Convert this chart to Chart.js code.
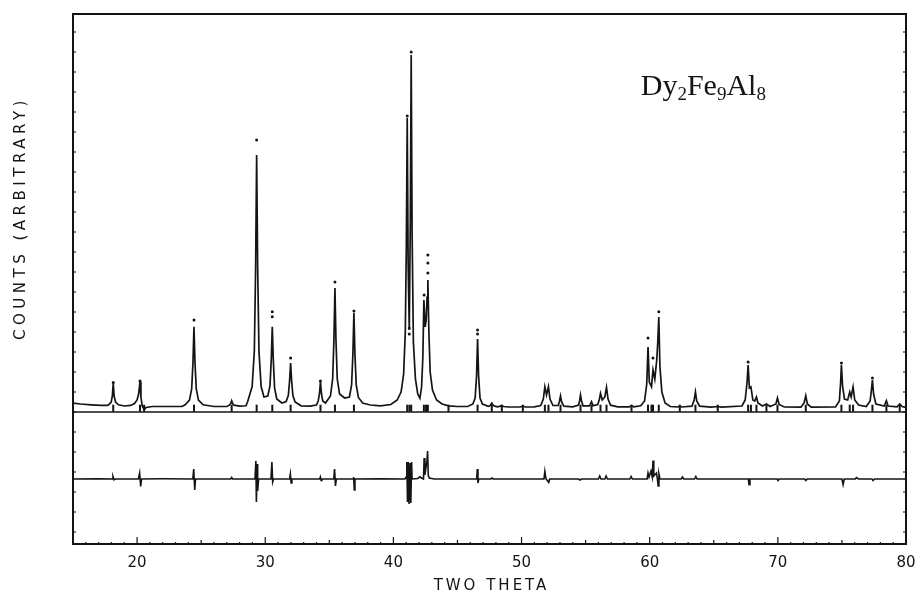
<!DOCTYPE html>
<html>
<head>
<meta charset="utf-8">
<script src="https://cdn.jsdelivr.net/npm/chart.js@4.4.1/dist/chart.umd.min.js"></script>
<style>
  html, body { margin: 0; padding: 0; background: #fff; }
  canvas { display: block; }
</style>
</head>
<body>
<canvas id="GraficoDifracao" width="916" height="607"></canvas>
<script>
// x axis: two theta (degrees), y: counts (arbitrary), 0 = line under the pattern
var xTickValues = [20, 30, 40, 50, 60, 70, 80];

// calculated profile
var calcX = [
  15.0, 15.6, 16.4, 17.2, 17.7,
  17.8, 17.98, 18.07, 18.14, 18.21, 18.32, 18.55, 19.0, 19.5,
  19.8, 20.0, 20.12, 20.23, 20.3, 20.4, 20.55, 20.7, 21.2, 22.5, 23.5,
  23.75, 24.09, 24.26, 24.36, 24.44, 24.52, 24.62, 24.79, 25.15, 26.0, 27.0,
  27.2, 27.3, 27.38, 27.46, 27.56, 28.0, 28.5,
  28.63, 28.98, 29.15, 29.25, 29.33, 29.41, 29.51, 29.68, 29.9,
  30.2, 30.37, 30.47, 30.55, 30.63, 30.73, 30.9, 31.3,
  31.63, 31.8, 31.9, 31.98, 32.06, 32.16, 32.33, 32.8, 33.5, 34.0,
  34.13, 34.23, 34.31, 34.39, 34.49, 34.7,
  35.09, 35.26, 35.36, 35.44, 35.52, 35.62, 35.8, 36.2,
  36.57, 36.74, 36.84, 36.92, 37.0, 37.1, 37.27, 37.6, 38.2, 39.0, 39.8, 40.3, 40.6,
  40.8, 40.93, 41.01, 41.08, 41.15, 41.24, 41.32, 41.39, 41.46, 41.56, 41.72, 41.9, 42.07,
  42.2, 42.3, 42.38, 42.48, 42.56, 42.63, 42.69, 42.77, 42.87, 43.05, 43.37, 43.8, 44.3, 45.0, 45.8,
  46.2, 46.38, 46.49, 46.57, 46.65, 46.76, 46.95, 47.4,
  47.55, 47.68, 47.8, 48.1, 48.35, 48.46, 48.58, 49.0, 49.9, 50.1, 50.3, 51.0,
  51.5, 51.7, 51.82, 51.95, 52.1, 52.22, 52.45, 52.85, 52.95, 53.04, 53.13, 53.3, 54.0,
  54.45, 54.53, 54.6, 54.68, 54.8, 55.3, 55.46, 55.58, 55.95, 56.08, 56.16, 56.3, 56.5, 56.63, 56.75, 56.95,
  57.5, 58.4, 58.58, 58.75, 59.3,
  59.6, 59.77, 59.87, 59.97, 60.14, 60.26, 60.4, 60.55, 60.63, 60.71, 60.8, 60.95, 61.2, 61.6,
  62.2, 62.35, 62.5, 63.3, 63.47, 63.57, 63.67, 63.9, 64.8, 65.31, 65.6,
  67.2, 67.45, 67.6, 67.68, 67.78, 67.9, 68.05, 68.2, 68.33, 68.45, 68.8, 69.11, 69.4,
  69.85, 69.97, 70.1, 70.5, 71.8, 72.05, 72.18, 72.3, 72.6,
  74.5, 74.8, 74.9, 74.96, 75.05, 75.2, 75.45, 75.61, 75.72, 75.87, 76.0, 76.3, 76.9,
  77.2, 77.3, 77.38, 77.47, 77.65, 78.3, 78.47, 78.6, 79.3, 79.51, 79.7, 80.0
];
var calcY = [
  88, 80, 72, 66, 66,
  75, 100, 160, 287, 160, 100, 72, 60, 66,
  85, 120, 180, 303, 150, 60, 25, 45, 55, 55, 55,
  72, 118, 230, 490, 853, 490, 230, 118, 72, 55, 55,
  68, 85, 113, 85, 68, 58, 62,
  105, 255, 610, 1440, 2570, 1440, 610, 255, 150,
  160, 260, 520, 853, 520, 240, 130, 90,
  105, 165, 310, 490, 310, 165, 100, 62, 58, 70,
  110, 180, 303, 180, 110, 90,
  160, 330, 720, 1240, 720, 330, 180, 140,
  150, 270, 580, 990, 580, 270, 145, 90, 70, 62, 75, 120, 200,
  380, 800, 1650, 2940, 1500, 820, 1900, 3570, 1800, 700, 330, 180, 137,
  250, 550, 1120, 850, 920, 1150, 1320, 800, 400, 220, 120, 80, 62, 55, 55,
  80, 140, 360, 730, 360, 140, 80, 56,
  65, 90, 65, 52, 58, 65, 55, 50, 50, 58, 50, 52,
  65, 130, 253, 170, 253, 130, 65, 65, 100, 160, 100, 58, 52,
  70, 110, 170, 110, 62, 62, 103, 62, 75, 130, 187, 120, 150, 247, 130, 68,
  52, 52, 62, 52, 62,
  110, 280, 650, 300, 253, 420, 330, 520, 700, 950, 450, 200, 90, 55,
  50, 60, 50, 58, 120, 200, 110, 58, 48, 55, 48,
  60, 120, 300, 470, 240, 250, 120, 110, 150, 90, 60, 80, 55,
  80, 140, 75, 50, 48, 90, 163, 80, 48,
  50, 110, 300, 470, 260, 130, 120, 200, 150, 250, 120, 70, 55,
  110, 220, 320, 180, 80, 60, 113, 60, 52, 80, 55, 45
];

// observed points that stand clear of the calculated line
var obsX = [24.44, 29.33, 30.55, 30.55, 31.98, 35.44, 36.92, 41.08, 41.24, 41.24, 41.39,
            42.4, 42.69, 42.69, 42.69, 46.57, 46.57, 59.87, 60.26, 60.71, 67.68, 74.96, 77.38,
            18.14, 20.23, 34.31];
var obsY = [920, 2720, 1003, 953, 540, 1300, 1010, 2960, 840, 780, 3600,
            1170, 1570, 1490, 1390, 820, 780, 740, 540, 1003, 500, 490, 340,
            295, 310, 310];

// difference curve (obs - calc)
var diffX = [
  15.0, 17.0, 18.05, 18.12, 18.2, 18.3, 20.1, 20.2, 20.28, 20.35, 22.0,
  24.35, 24.42, 24.5, 24.56, 27.3, 27.38, 27.45,
  29.2, 29.27, 29.31, 29.36, 29.41, 29.48, 30.45, 30.52, 30.58, 30.65,
  31.9, 31.96, 32.02, 32.08, 34.25, 34.3, 34.36, 34.42,
  35.35, 35.41, 35.48, 35.55, 36.85, 36.9, 36.95, 37.0, 39.0,
  40.9, 41.0, 41.05, 41.1, 41.16, 41.22, 41.3, 41.36, 41.42, 41.46,
  41.9, 42.07, 42.2, 42.35, 42.4, 42.46, 42.62, 42.67, 42.72, 42.8, 43.2,
  46.5, 46.55, 46.6, 46.66, 47.6, 47.7, 47.8,
  51.75, 51.82, 51.9, 52.12, 52.2, 54.45, 54.55, 54.7,
  56.0, 56.1, 56.2, 56.5, 56.6, 56.7, 58.45, 58.55, 58.65,
  59.8, 59.87, 59.95, 60.1, 60.2, 60.26, 60.32, 60.53, 60.6, 60.66, 60.72, 60.8,
  62.45, 62.56, 62.65, 63.5, 63.6, 63.7, 67.7, 67.75, 67.82, 69.95, 70.02, 70.1,
  72.1, 72.18, 72.3, 75.0, 75.09, 75.18, 76.05, 76.13, 76.3, 77.35, 77.43, 77.55, 80.0
];
var diffY = [
  0, 3, 0, 25, -8, 0, 0, 60, -75, 0, 2,
  0, 100, -110, 0, 0, 15, 0,
  0, 180, -230, 150, -120, 0, 0, 170, -30, 0,
  0, 50, -40, 0, 0, 20, -15, 0,
  0, 100, -70, 0, 0, 20, -110, 0, 3,
  0, 20, 170, -230, 170, -250, 160, -240, 170, 0,
  5, 22, 10, 0, 210, 40, 180, 280, 40, 10, 0,
  0, 100, -40, 0, 0, 10, 0,
  0, 76, 5, -34, 0, 0, -10, 0,
  0, 30, 0, 0, 30, 0, 0, 25, 0,
  0, 60, 20, 80, 20, 185, 30, 60, 0, -70, 50, 0,
  0, 20, 0, 0, 25, 0, 0, -57, 0, 0, -15, 0,
  0, -15, 0, 0, -55, 0, 0, 15, 0, 0, -15, 0, 0
];
var DIFF_OFFSET = -670;

// reflection markers
var braggX = [18.14, 20.23, 20.55, 24.44, 27.38, 29.33, 30.55, 31.98, 34.31, 35.44, 36.92,
              41.08, 41.25, 41.39, 42.38, 42.55, 42.69, 44.3, 46.57, 47.68, 48.46, 50.1,
              51.82, 52.1, 53.04, 54.6, 55.46, 56.16, 56.63, 58.58, 59.87, 60.14, 60.26,
              60.71, 62.35, 63.57, 65.31, 67.68, 67.9, 68.33, 69.11, 69.97, 72.18, 74.96,
              75.61, 75.87, 77.38, 78.47, 79.51];
var BRAGG_Y = 38;

var INK = '#141414';

function pares(xs, ys, off) {
  return xs.map(function (x, i) { return { x: x, y: ys[i] + (off || 0) }; });
}

var molduraPlugin = {
  id: 'moldura',
  afterDatasetsDraw: function (chart) {
    var ctx = chart.ctx, a = chart.chartArea;
    var sx = chart.scales.x, sy = chart.scales.y;
    ctx.save();
    ctx.strokeStyle = INK;
    ctx.fillStyle = INK;

    // frame
    ctx.lineWidth = 2;
    ctx.strokeRect(a.left, a.top, a.right - a.left, a.bottom - a.top);

    // line under the pattern
    var y0 = sy.getPixelForValue(0);
    ctx.lineWidth = 1.6;
    ctx.beginPath();
    ctx.moveTo(a.left, y0);
    ctx.lineTo(a.right, y0);
    ctx.stroke();

    // ticks on the bottom, pointing in
    ctx.lineWidth = 1.2;
    ctx.beginPath();
    for (var v = 15; v <= 80; v++) {
      var len = v % 10 === 0 ? 7 : (v % 5 === 0 ? 4 : 2);
      var px = sx.getPixelForValue(v);
      ctx.moveTo(px, a.bottom);
      ctx.lineTo(px, a.bottom - len);
    }
    // left and right small ticks
    for (var c = -1200; c <= 3900; c += 200) {
      var py = sy.getPixelForValue(c);
      ctx.moveTo(a.left, py);
      ctx.lineTo(a.left + 3, py);
      ctx.moveTo(a.right, py);
      ctx.lineTo(a.right - 3, py);
    }
    ctx.stroke();

    // axis titles
    ctx.font = '15px "DejaVu Sans"';
    ctx.textAlign = 'center';
    ctx.textBaseline = 'middle';
    ctx.letterSpacing = '3px';
    ctx.fillText('TWO THETA', (a.left + a.right) / 2 + 2, 586);
    ctx.letterSpacing = '4.5px';
    ctx.save();
    ctx.translate(21, 218);
    ctx.rotate(-Math.PI / 2);
    ctx.fillText('COUNTS (ARBITRARY)', 0, 0);
    ctx.restore();

    // compound name with subscripts
    ctx.letterSpacing = '0px';
    ctx.textAlign = 'left';
    ctx.textBaseline = 'alphabetic';
    var partes = [['Dy', 0], ['2', 1], ['Fe', 0], ['9', 1], ['Al', 0], ['8', 1]];
    var tx = sx.getPixelForValue(59.3), ty = sy.getPixelForValue(3170);
    partes.forEach(function (p) {
      ctx.font = (p[1] ? '19px' : '30px') + ' "Liberation Serif"';
      ctx.fillText(p[0], tx, ty + (p[1] ? 5 : 0));
      tx += ctx.measureText(p[0]).width;
    });
    ctx.restore();
  }
};

new Chart(document.getElementById('GraficoDifracao'), {
  type: 'scatter',
  data: {
    datasets: [{
      label: 'Calculado',
      data: pares(calcX, calcY),
      showLine: true,
      borderColor: INK,
      borderWidth: 1.7,
      pointRadius: 0,
      tension: 0
    }, {
      label: 'Observado',
      data: pares(obsX, obsY),
      showLine: false,
      pointRadius: 1.5,
      borderWidth: 0,
      backgroundColor: INK
    }, {
      label: 'Diferenca',
      data: pares(diffX, diffY, DIFF_OFFSET),
      showLine: true,
      borderColor: INK,
      borderWidth: 1.6,
      pointRadius: 0,
      tension: 0
    }, {
      label: 'Reflexoes',
      data: braggX.map(function (x) { return { x: x, y: BRAGG_Y }; }),
      showLine: false,
      pointStyle: 'line',
      rotation: 90,
      pointRadius: 3.5,
      borderWidth: 2,
      borderColor: INK
    }]
  },
  options: {
    responsive: false,
    animation: false,
    layout: { padding: { left: 73, right: 10, top: 14, bottom: 0 } },
    plugins: {
      legend: { display: false },
      tooltip: { enabled: false }
    },
    scales: {
      x: {
        type: 'linear',
        min: 15,
        max: 80,
        grid: { display: false, drawTicks: false },
        border: { display: false },
        afterBuildTicks: function (s) {
          s.ticks = xTickValues.map(function (v) { return { value: v }; });
        },
        ticks: {
          font: { family: 'DejaVu Sans', size: 15 },
          color: INK,
          padding: 10,
          maxRotation: 0,
          autoSkip: false
        },
        afterFit: function (s) {
          s.height = 63;
          s.paddingLeft = 0;
          s.paddingRight = 0;
        }
      },
      y: {
        type: 'linear',
        min: -1320,
        max: 3980,
        display: false
      }
    }
  },
  plugins: [molduraPlugin]
});
</script>
</body>
</html>
